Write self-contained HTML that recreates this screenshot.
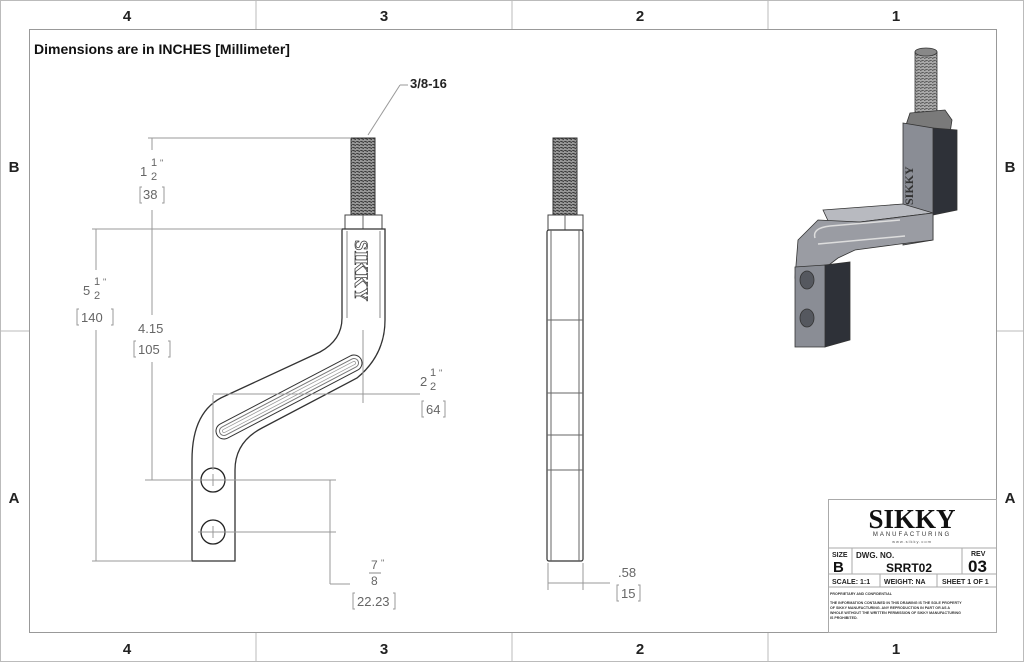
<!DOCTYPE html>
<html><head><meta charset="utf-8"><style>
html,body{margin:0;padding:0;background:#fff}
svg{display:block}
text{font-family:"Liberation Sans",sans-serif}
.z{font-size:15px;font-weight:bold;fill:#222}
.d{font-size:13px;fill:#666}
</style></head><body>
<svg width="1024" height="662" viewBox="0 0 1024 662" xmlns="http://www.w3.org/2000/svg">
<defs>
<pattern id="th" width="4" height="3" patternUnits="userSpaceOnUse"><rect width="4" height="3" fill="#999"/><line x1="0" y1="0" x2="4" y2="1.5" stroke="#333" stroke-width="1"/></pattern>
<pattern id="th2" width="4" height="3" patternUnits="userSpaceOnUse"><rect width="4" height="3" fill="#aaa"/><line x1="0" y1="1.5" x2="4" y2="0" stroke="#555" stroke-width="1"/></pattern>
</defs>
<rect x="0.5" y="0.5" width="1023" height="661" fill="none" stroke="#bbb"/>
<rect x="29.5" y="29.5" width="967" height="603" fill="none" stroke="#999"/>
<g stroke="#bbb">
<line x1="256" y1="0" x2="256" y2="29"/><line x1="512" y1="0" x2="512" y2="29"/><line x1="768" y1="0" x2="768" y2="29"/>
<line x1="256" y1="633" x2="256" y2="662"/><line x1="512" y1="633" x2="512" y2="662"/><line x1="768" y1="633" x2="768" y2="662"/>
<line x1="0" y1="331" x2="29" y2="331"/><line x1="997" y1="331" x2="1024" y2="331"/>
</g>
<g class="z" text-anchor="middle">
<text x="127" y="21">4</text><text x="384" y="21">3</text><text x="640" y="21">2</text><text x="896" y="21">1</text>
<text x="127" y="654">4</text><text x="384" y="654">3</text><text x="640" y="654">2</text><text x="896" y="654">1</text>
<text x="14" y="172">B</text><text x="14" y="503">A</text><text x="1010" y="172">B</text><text x="1010" y="503">A</text>
</g>
<text x="34" y="54" style="font-size:14px;font-weight:bold;fill:#111">Dimensions are in INCHES [Millimeter]</text>

<!-- front view -->
<rect x="351" y="138" width="24" height="77" fill="url(#th)" stroke="#333"/>
<rect x="345" y="215" width="37" height="14" fill="#fff" stroke="#444"/>
<line x1="363" y1="215" x2="363" y2="229" stroke="#666"/>
<path d="M342,229 L385,229 L385,320 Q385,355 357,378 L262,428 Q235,442 235,470 L235,561 L192,561 L192,460 Q192,410 225,396 L320,352 Q342,340 342,318 Z" fill="#fff" stroke="#333" stroke-width="1.3"/>
<path d="M347,231 L347,318 M380,231 L380,318" stroke="#888" fill="none"/>
<line x1="224" y1="431" x2="354" y2="363" stroke="#333" stroke-width="17" stroke-linecap="round"/>
<line x1="224" y1="431" x2="354" y2="363" stroke="#fff" stroke-width="15" stroke-linecap="round"/>
<line x1="224" y1="431" x2="354" y2="363" stroke="#777" stroke-width="10" stroke-linecap="round"/>
<line x1="224" y1="431" x2="354" y2="363" stroke="#fff" stroke-width="8" stroke-linecap="round"/>
<line x1="224" y1="431" x2="354" y2="363" stroke="#999" stroke-width="4" stroke-linecap="round"/>
<line x1="224" y1="431" x2="354" y2="363" stroke="#fff" stroke-width="2.5" stroke-linecap="round"/>
<text x="0" y="0" transform="translate(355,240) rotate(90)" style="font-family:'Liberation Serif',serif;font-size:19px;font-weight:bold;fill:#fff;stroke:#444;stroke-width:0.8">SIKKY</text>
<circle cx="213" cy="480" r="12" fill="none" stroke="#222" stroke-width="1.3"/>
<circle cx="213" cy="532" r="12" fill="none" stroke="#222" stroke-width="1.3"/>
<g stroke="#999"><line x1="207" y1="480" x2="219" y2="480"/><line x1="213" y1="474" x2="213" y2="486"/><line x1="207" y1="532" x2="219" y2="532"/><line x1="213" y1="526" x2="213" y2="538"/></g>

<!-- dims -->
<g stroke="#999" fill="none">
<line x1="148" y1="138" x2="350" y2="138"/>
<line x1="92" y1="229" x2="342" y2="229"/>
<line x1="152" y1="138" x2="152" y2="150"/><line x1="152" y1="210" x2="152" y2="229"/>
<line x1="152" y1="229" x2="152" y2="315"/><line x1="152" y1="362" x2="152" y2="480"/>
<line x1="145" y1="480" x2="336" y2="480"/>
<line x1="96" y1="229" x2="96" y2="270"/><line x1="96" y1="330" x2="96" y2="561"/>
<line x1="92" y1="561" x2="192" y2="561"/>
<line x1="213" y1="395" x2="213" y2="470"/>
<line x1="363" y1="330" x2="363" y2="403"/>
<line x1="213" y1="394" x2="420" y2="394"/>
<line x1="198" y1="532" x2="336" y2="532"/>
<line x1="330" y1="480" x2="330" y2="584"/><line x1="330" y1="584" x2="350" y2="584"/>
<line x1="548" y1="563" x2="548" y2="590"/><line x1="583" y1="563" x2="583" y2="590"/>
<line x1="548" y1="583" x2="610" y2="583"/>
<line x1="368" y1="135" x2="400" y2="85"/><line x1="400" y1="85" x2="408" y2="85"/>
</g>
<text x="410" y="88" style="font-size:13px;font-weight:bold;fill:#222">3/8-16</text>
<g class="d">
<text x="140" y="176">1</text><text x="151" y="166" style="font-size:11px">1</text><text x="151" y="180" style="font-size:11px">2</text><text x="160" y="166" style="font-size:9px">"</text>
<text x="143" y="199">38</text><path d="M142,187 h-2 v16 h2 M162,187 h2 v16 h-2" stroke="#999" fill="none"/>
<text x="83" y="295">5</text><text x="94" y="285" style="font-size:11px">1</text><text x="94" y="299" style="font-size:11px">2</text><text x="103" y="285" style="font-size:9px">"</text>
<text x="81" y="322">140</text><path d="M79,309 h-2 v16 h2 M111,309 h2 v16 h-2" stroke="#999" fill="none"/>
<text x="138" y="333">4.15</text>
<text x="138" y="354">105</text><path d="M136,341 h-2 v16 h2 M168,341 h2 v16 h-2" stroke="#999" fill="none"/>
<text x="420" y="386">2</text><text x="430" y="376" style="font-size:11px">1</text><text x="430" y="390" style="font-size:11px">2</text><text x="439" y="376" style="font-size:9px">"</text>
<text x="426" y="414">64</text><path d="M424,401 h-2 v16 h2 M443,401 h2 v16 h-2" stroke="#999" fill="none"/>
<text x="371" y="569" style="font-size:12px">7</text><text x="381" y="566" style="font-size:9px">"</text><line x1="369" y1="573" x2="381" y2="573" stroke="#888"/><text x="371" y="585" style="font-size:12px">8</text>
<text x="357" y="606">22.23</text><path d="M355,593 h-2 v16 h2 M393,593 h2 v16 h-2" stroke="#999" fill="none"/>
<text x="618" y="577">.58</text>
<text x="621" y="598">15</text><path d="M619,585 h-2 v16 h2 M638,585 h2 v16 h-2" stroke="#999" fill="none"/>
</g>

<!-- side view -->
<rect x="553" y="138" width="24" height="77" fill="url(#th)" stroke="#333"/>
<rect x="548" y="215" width="35" height="15" fill="#fff" stroke="#444"/>
<line x1="565" y1="215" x2="565" y2="230" stroke="#666"/>
<rect x="547" y="230" width="36" height="331" rx="2" fill="#fff" stroke="#333" stroke-width="1.2"/>
<g stroke="#666"><line x1="551" y1="230" x2="551" y2="561"/><line x1="579" y1="230" x2="579" y2="561"/>
<line x1="547" y1="320" x2="583" y2="320"/><line x1="547" y1="393" x2="583" y2="393"/><line x1="547" y1="435" x2="583" y2="435"/><line x1="547" y1="470" x2="583" y2="470"/></g>

<!-- iso view -->
<g stroke="#333" stroke-width="0.8">
<rect x="915" y="52" width="22" height="65" fill="url(#th2)"/>
<ellipse cx="926" cy="52" rx="11" ry="4" fill="#888"/>
<polygon points="910,113 945,110 952,120 950,133 912,136 906,125" fill="#7a7a7a"/>
<polygon points="933,128 957,130 957,210 933,215" fill="#2e3138"/>
<polygon points="903,123 933,128 933,240 903,245" fill="#8a8d95"/>
<polygon points="823,210 903,204 933,213 860,222 830,225" fill="#b8bac0"/>
<polygon points="795,278 798,240 818,220 860,222 933,213 933,240 900,244 855,250 838,258 825,268" fill="#9a9ca3"/>
<polygon points="825,265 850,262 850,340 825,347" fill="#2e3138"/>
<polygon points="795,267 825,265 825,347 795,347" fill="#8a8d95"/>
<path d="M815,238 Q812,228 830,226 L900,220 M818,244 L905,236" fill="none" stroke="#ddd" stroke-width="1.5"/>
<ellipse cx="807" cy="280" rx="7" ry="9" fill="#55585f"/>
<ellipse cx="807" cy="318" rx="7" ry="9" fill="#55585f"/>
</g>
<text transform="translate(913,205) rotate(-90)" style="font-family:'Liberation Serif',serif;font-size:12px;font-weight:bold;fill:#333">SIKKY</text>

<!-- title block -->
<g stroke="#aaa" fill="none">
<rect x="828.5" y="499.5" width="168" height="133"/>
<line x1="828" y1="548" x2="997" y2="548"/>
<line x1="828" y1="574" x2="997" y2="574"/>
<line x1="828" y1="587" x2="997" y2="587"/>
<line x1="852" y1="548" x2="852" y2="574"/>
<line x1="962" y1="548" x2="962" y2="574"/>
<line x1="880" y1="574" x2="880" y2="587"/>
<line x1="937" y1="574" x2="937" y2="587"/>
</g>
<text x="912" y="528" text-anchor="middle" style="font-family:'Liberation Serif',serif;font-size:27px;font-weight:bold;fill:#111">SIKKY</text>
<text x="912" y="536" text-anchor="middle" style="font-size:6px;letter-spacing:2px;fill:#333">MANUFACTURING</text>
<text x="912" y="543" text-anchor="middle" style="font-size:4px;letter-spacing:1px;fill:#555">www.sikky.com</text>
<text x="832" y="557" style="font-size:7px;font-weight:bold;fill:#222">SIZE</text>
<text x="833" y="572" style="font-size:15px;font-weight:bold;fill:#111">B</text>
<text x="856" y="558" style="font-size:8px;font-weight:bold;fill:#222">DWG. NO.</text>
<text x="886" y="572" style="font-size:12px;font-weight:bold;fill:#111">SRRT02</text>
<text x="971" y="556" style="font-size:7px;font-weight:bold;fill:#222">REV</text>
<text x="968" y="572" style="font-size:17px;font-weight:bold;fill:#111">03</text>
<text x="832" y="584" style="font-size:7px;font-weight:bold;fill:#222">SCALE: 1:1</text>
<text x="884" y="584" style="font-size:7px;font-weight:bold;fill:#222">WEIGHT: NA</text>
<text x="942" y="584" style="font-size:7px;font-weight:bold;fill:#222">SHEET 1 OF 1</text>
<g style="font-size:3.6px;fill:#333;font-weight:bold">
<text x="830" y="595">PROPRIETARY AND CONFIDENTIAL</text>
<text x="830" y="604">THE INFORMATION CONTAINED IN THIS DRAWING IS THE SOLE PROPERTY</text>
<text x="830" y="609">OF SIKKY MANUFACTURING.  ANY REPRODUCTION IN PART OR AS A</text>
<text x="830" y="614">WHOLE WITHOUT THE WRITTEN PERMISSION OF SIKKY MANUFACTURING</text>
<text x="830" y="619">IS PROHIBITED.</text>
</g>
</svg>
</body></html>
